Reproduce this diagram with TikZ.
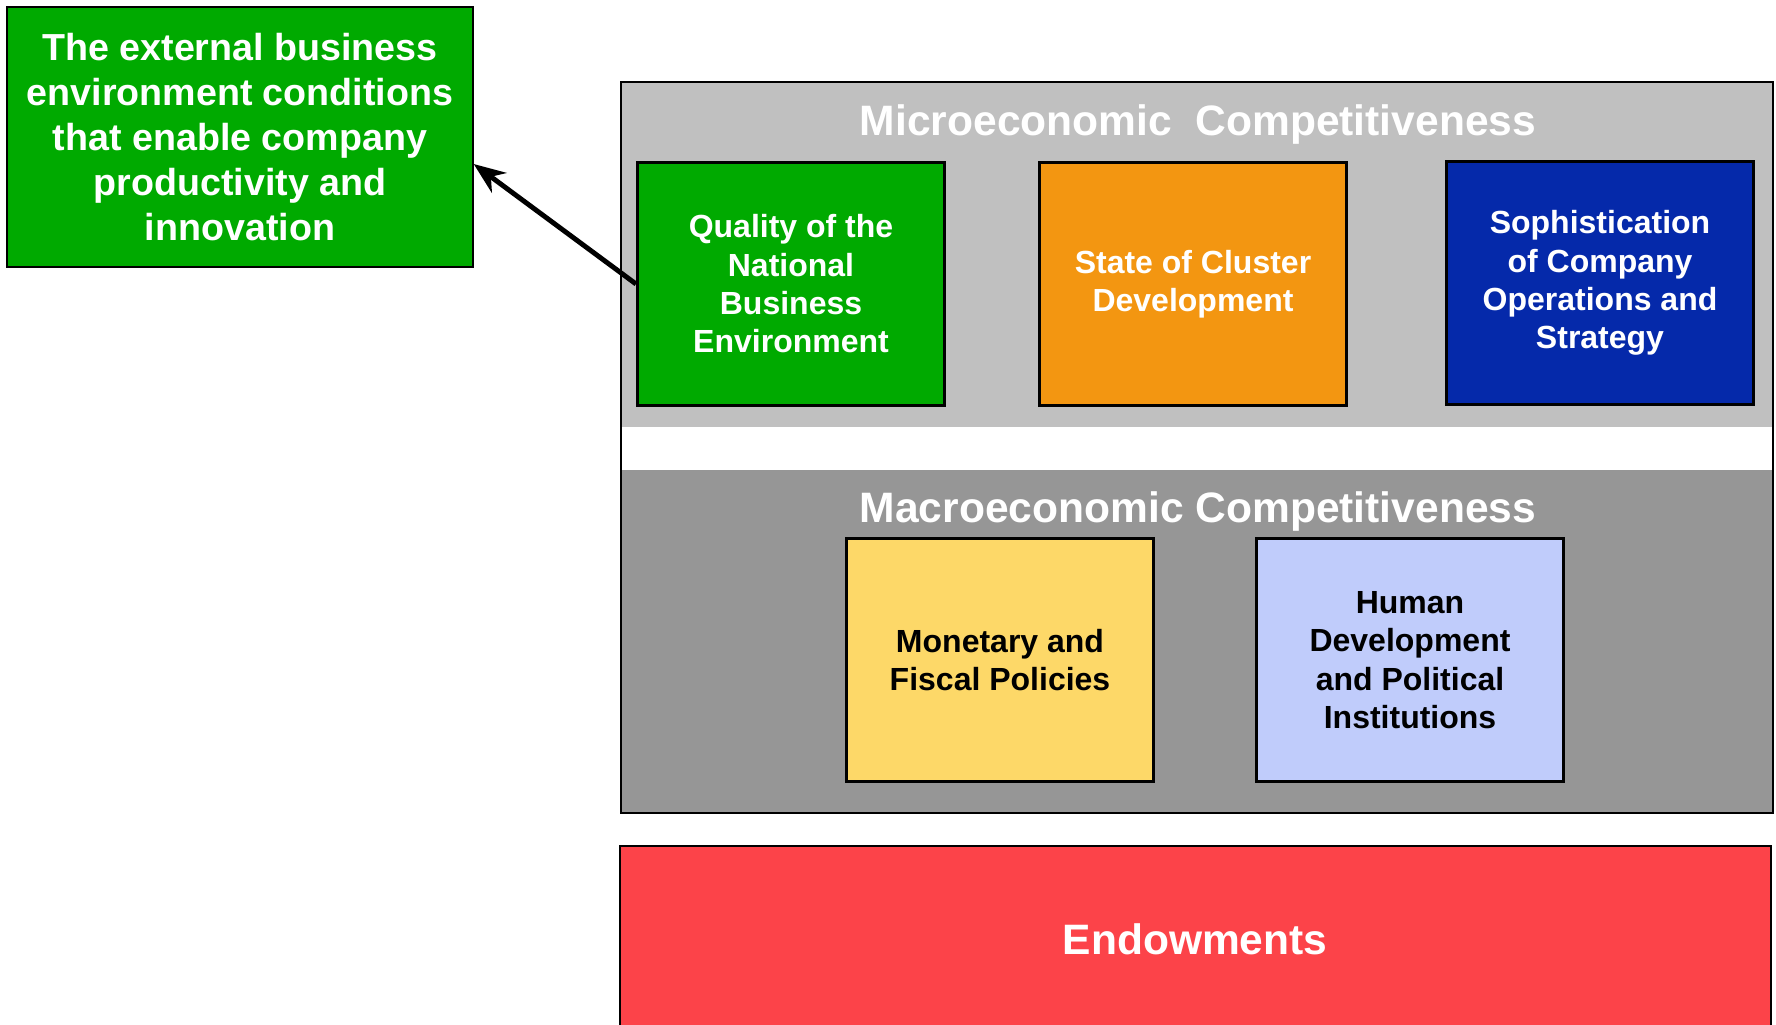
\documentclass[tikz,border=0pt]{standalone}
\usepackage{fontspec}
\setmainfont{Liberation Sans}
\usepackage{xcolor}
\usepackage{tikz}
\usetikzlibrary{arrows.meta}
\usetikzlibrary{calc}

\definecolor{extgreen}{RGB}{0,170,0}
\definecolor{clusterorange}{RGB}{243,150,17}
\definecolor{companyblue}{RGB}{5,41,170}
\definecolor{fiscalyellow}{RGB}{253,216,104}
\definecolor{humanblue}{RGB}{192,204,251}
\definecolor{endowred}{RGB}{252,67,73}
\definecolor{microgray}{RGB}{192,192,192}
\definecolor{macrogray}{RGB}{150,150,150}

\begin{document}
\begin{tikzpicture}[x=0.01cm, y=-0.01cm,
    box/.style={draw=black, line width=0.8pt, minimum width=3.07cm, minimum height=2.43cm,
      align=center, font=\fontsize{9.1}{10.9}\selectfont\bfseries},
    layertitle/.style={text=white, font=\fontsize{12.1}{14.5}\selectfont\bfseries}]

    \useasboundingbox (0,0) rectangle (1776,1025);

    % layers
    \fill[microgray] (621,82) rectangle (1773,427);
    \fill[macrogray] (621,470) rectangle (1773,813);
    \draw[black, line width=0.8pt] (621,82) rectangle (1773,813);
    \draw[black, line width=0.8pt, fill=endowred] (620,846) rectangle (1771,1040);

    \node[layertitle] (micro) at (1198,125) {Microeconomic\ \ Competitiveness};
    \node[layertitle] (macro) at (1198,512) {Macroeconomic Competitiveness};
    \node[layertitle] (endow) at (1195,939) {Endowments};

    % micro boxes
    \node[box, fill=extgreen, text=white] (quality) at (791,284)
      {Quality of the\\National\\Business\\Environment};
    \node[box, fill=clusterorange, text=white] (cluster) at (1193,284)
      {State of Cluster\\Development};
    \node[box, fill=companyblue, text=white] (company) at (1600,283)
      {Sophistication\\of Company\\Operations and\\Strategy};

    % macro boxes
    \node[box, fill=fiscalyellow, text=black] (fiscal) at (1000,660)
      {Monetary and\\Fiscal Policies};
    \node[box, fill=humanblue, text=black] (human) at (1410,660)
      {Human\\Development\\and Political\\Institutions};

    % callout
    \node[box, fill=extgreen, text=white, line width=0.6pt, minimum width=4.65cm, minimum height=2.6cm,
      font=\fontsize{10.7}{12.8}\selectfont\bfseries] (ext) at (240,137)
      {The external business\\environment conditions\\that enable company\\productivity and\\innovation};

    \draw[-{Stealth[length=9pt,width=7pt]}, line width=1.4pt] (quality.west) -- ([yshift=-0.27cm]ext.east);

\end{tikzpicture}
\end{document}
